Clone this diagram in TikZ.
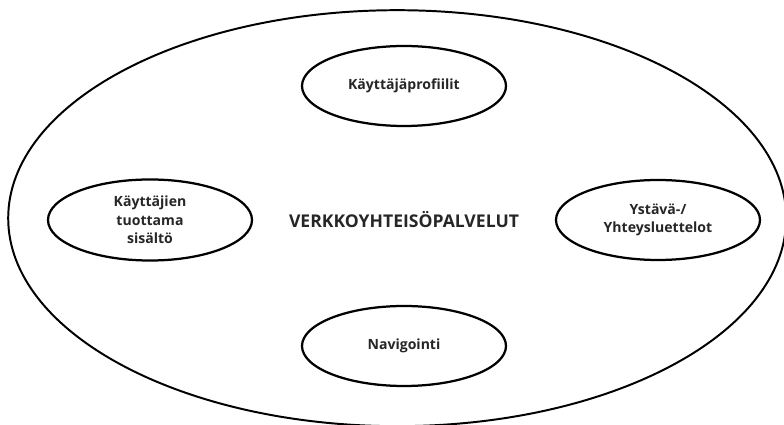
\documentclass[tikz,border=0pt]{standalone}
\usepackage{fontspec}
\setmainfont{Open Sans}
\usetikzlibrary{shapes.geometric,positioning}

\begin{document}
\begin{tikzpicture}[
    on grid,
    node distance=3.3cm and 6.35cm,
    outer/.style={ellipse, draw, line width=1.4pt, minimum width=19.45cm, minimum height=10.4cm},
    part/.style={ellipse, draw, line width=1.6pt, minimum width=5.1cm, minimum height=2.0cm, align=center, font=\bfseries\fontsize{10}{13.2}\selectfont, text=black!85},
    title/.style={font=\bfseries\fontsize{12.5}{15}\selectfont, text=black!85}
]
    \useasboundingbox (0,0) rectangle (19.6,10.625);
    \node[outer] (yhteiso) at (9.93,5.17) {};

    \node[title] (hub) at (10.1,5.125) {VERKKOYHTEISÖPALVELUT};
    \node[part, above=3.35cm of hub] (profiilit) {Käyttäjäprofiilit};
    \node[part, below=3.15cm of hub] (navi) {Navigointi};
    \node[part, left=of hub] (sisalto) {Käyttäjien\\tuottama\\sisältö};
    \node[part, right=of hub] (ystavat) {Ystävä-/\\Yhteysluettelot};
\end{tikzpicture}
\end{document}
